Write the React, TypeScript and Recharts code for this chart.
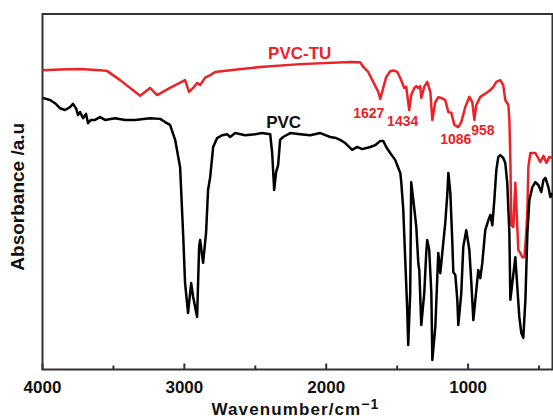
import React from "react";
import { LineChart, Line, XAxis, YAxis, ReferenceArea, ReferenceDot } from "recharts";

// PVC-TU (red) spectrum
const tuWn = [4000, 3877, 3735, 3594, 3545, 3453, 3312, 3242, 3192, 3101, 2995, 2967, 2938, 2910, 2889, 2854, 2818, 2783, 2677, 2466, 2184, 1831, 1760, 1739, 1704, 1669, 1633, 1619, 1598, 1577, 1549, 1527, 1499, 1478, 1450, 1436, 1415, 1401, 1379, 1365, 1351, 1337, 1330, 1309, 1288, 1266, 1252, 1231, 1210, 1189, 1161, 1139, 1118, 1097, 1069, 1048, 1020, 991, 970, 956, 942, 914, 872, 843, 822, 801, 773, 752, 738, 716, 709, 702, 695, 681, 667, 646, 632, 618, 603, 589, 582, 575, 561, 526, 491, 469, 448, 427, 405];
const tuAbs = [84.2, 84.4, 84.5, 84.2, 84.0, 81.4, 77.0, 79.2, 77.2, 79.2, 81.4, 78.1, 79.2, 80.6, 80.0, 82.1, 82.8, 83.7, 84.2, 85.1, 85.9, 86.5, 86.4, 85.1, 83.7, 80.9, 78.1, 76.1, 79.2, 82.3, 83.9, 84.1, 83.7, 82.0, 79.2, 79.5, 73.0, 77.2, 79.2, 79.7, 79.2, 79.7, 76.4, 79.5, 80.9, 78.1, 70.2, 75.2, 76.6, 76.4, 75.8, 72.4, 72.2, 68.8, 68.2, 69.6, 73.8, 76.7, 75.2, 70.2, 74.4, 76.7, 77.8, 78.6, 79.5, 80.9, 81.4, 80.0, 75.8, 74.4, 70.2, 59.0, 40.6, 40.1, 52.5, 33.6, 32.8, 31.6, 31.6, 39.2, 44.9, 57.0, 60.9, 60.9, 58.4, 60.1, 58.1, 59.8, 59.5];

// PVC (black) spectrum
const pvcWn = [4000, 3947, 3912, 3877, 3841, 3806, 3785, 3764, 3750, 3735, 3714, 3693, 3679, 3658, 3630, 3594, 3559, 3489, 3418, 3348, 3242, 3171, 3136, 3101, 3065, 3030, 3009, 2995, 2974, 2952, 2938, 2910, 2896, 2889, 2868, 2847, 2833, 2818, 2797, 2769, 2734, 2699, 2677, 2642, 2572, 2501, 2452, 2395, 2381, 2367, 2353, 2339, 2325, 2304, 2254, 2184, 2113, 2042, 1972, 1930, 1902, 1866, 1817, 1782, 1746, 1690, 1655, 1619, 1598, 1577, 1549, 1513, 1492, 1478, 1471, 1457, 1443, 1429, 1422, 1408, 1401, 1386, 1365, 1351, 1344, 1330, 1309, 1295, 1288, 1274, 1259, 1252, 1231, 1217, 1210, 1196, 1189, 1175, 1161, 1146, 1139, 1125, 1111, 1104, 1090, 1076, 1069, 1048, 1034, 1013, 991, 977, 963, 942, 928, 914, 900, 879, 857, 843, 829, 815, 801, 787, 773, 752, 738, 724, 709, 702, 667, 639, 625, 611, 596, 582, 568, 547, 526, 505, 484, 469, 455, 434, 420, 405];
const pvcAbs = [76.4, 75.8, 74.9, 73.5, 73.0, 73.8, 74.7, 73.5, 71.6, 72.4, 70.7, 71.9, 69.3, 70.2, 70.2, 71.0, 70.2, 70.7, 70.2, 70.2, 70.7, 70.5, 69.6, 68.8, 64.6, 56.9, 38.4, 24.3, 15.9, 24.3, 20.4, 14.8, 34.5, 36.4, 30.0, 38.4, 50.5, 54.1, 62.6, 65.1, 65.9, 66.2, 65.4, 66.5, 65.9, 66.2, 66.5, 66.2, 60.9, 50.5, 55.6, 57.5, 64.6, 65.4, 66.5, 66.2, 65.9, 66.5, 65.4, 65.1, 64.6, 63.7, 61.8, 62.6, 62.0, 62.6, 63.1, 64.3, 64.3, 62.6, 60.9, 58.9, 56.7, 55.3, 52.7, 45.0, 30.8, 16.7, 6.9, 21.5, 52.7, 47.7, 40.1, 29.9, 28.0, 12.5, 21.5, 32.8, 36.4, 33.6, 21.5, 2.7, 12.0, 26.0, 32.8, 27.1, 29.9, 35.6, 41.2, 49.6, 55.3, 49.6, 35.6, 27.4, 26.6, 19.6, 12.5, 21.5, 34.5, 39.2, 33.6, 24.3, 13.9, 22.4, 28.0, 25.7, 29.9, 39.2, 42.0, 43.5, 40.6, 47.7, 56.1, 59.8, 60.3, 59.5, 58.1, 52.5, 38.4, 19.6, 31.6, 14.8, 10.3, 8.9, 19.6, 38.4, 47.7, 51.3, 52.7, 51.9, 49.9, 53.3, 53.9, 51.3, 48.5, 49.6];

const xTicks = [4000, 3500, 3000, 2500, 2000, 1500, 1000, 500];

// annotations: text, wavenumber, absorbance (baseline), colour key, size key
const noteText = ["PVC-TU", "PVC", "1627", "1434", "1086", "958"];
const noteWn = [2187, 2300, 1700, 1461, 1087, 896];
const noteAbs = [87.3, 67.8, 70.8, 68.6, 63.4, 66.0];
const noteRed = [true, false, true, true, true, true];
const noteBig = [true, true, false, false, false, false];

const RED = "#ec2227";
const FONT = "'Liberation Sans', Arial, Helvetica, sans-serif";

const tuData = tuWn.map((w, i) => ({ wn: w, a: tuAbs[i] }));
const pvcData = pvcWn.map((w, i) => ({ wn: w, a: pvcAbs[i] }));

const Tick = (props: any) => {
  const { x, y, payload } = props;
  const major = payload.value % 1000 === 0;
  return (
    <g>
      <line x1={x} x2={x} y1={y} y2={y - (major ? 6 : 4)} stroke="#333" strokeWidth={2} />
      {major && (
        <text x={x} y={y + 23.5} textAnchor="middle" fontFamily={FONT} fontWeight="bold" fontSize={17} fill="#111">
          {payload.value}
        </text>
      )}
    </g>
  );
};

const XLabel = (props: any) => {
  const vb = props.viewBox;
  const cx = vb.x + vb.width / 2 - 2;
  return (
    <text x={cx} y={vb.y + 45.5} textAnchor="middle" fontFamily={FONT} fontWeight="bold" fontSize={17} letterSpacing={1.1} fill="#111">
      <tspan>Wavenumber/cm</tspan>
      <tspan dy={-6} fontSize={14}>−1</tspan>
    </text>
  );
};

const YLabel = (props: any) => {
  const vb = props.viewBox;
  const x = 24;
  const y = vb.y + vb.height / 2 + 5;
  return (
    <text x={x} y={y} transform={`rotate(-90 ${x} ${y})`} textAnchor="middle" fontFamily={FONT} fontWeight="bold" fontSize={19} fill="#111">
      Absorbance /a.u
    </text>
  );
};

const NoteLabel = (text: string, red: boolean, big: boolean) => (props: any) => {
  const vb = props.viewBox;
  const cx = vb.x + vb.width / 2;
  const cy = vb.y + vb.height / 2;
  return (
    <text x={cx} y={cy} textAnchor="middle" fontFamily={FONT} fontWeight="bold" fontSize={big ? 17 : 14} fill={red ? RED : "#111"}>
      {text}
    </text>
  );
};

export default function App() {
  return (
    <div style={{ position: "absolute", left: 0, top: 0, width: 553, height: 419, background: "#fff" }}>
      <LineChart width={553} height={419} margin={{ top: 14, right: 0.5, bottom: 0, left: 0 }}>
        <XAxis
          type="number"
          dataKey="wn"
          domain={[405, 4000]}
          reversed
          allowDataOverflow
          ticks={xTicks}
          interval={0}
          tickSize={0}
          tickMargin={0}
          tickLine={false}
          axisLine={false}
          tick={<Tick />}
          height={49.5}
          label={{ content: XLabel } as any}
        />
        <YAxis
          type="number"
          domain={[0, 100]}
          allowDataOverflow
          width={42.5}
          tick={false}
          tickLine={false}
          axisLine={false}
          label={{ content: YLabel } as any}
        />
        <Line data={tuData} dataKey="a" stroke={RED} strokeWidth={2.5} dot={false} isAnimationActive={false} type="linear" strokeLinejoin="round" />
        <Line data={pvcData} dataKey="a" stroke="#000" strokeWidth={2.5} dot={false} isAnimationActive={false} type="linear" strokeLinejoin="round" />
        <ReferenceArea x1={405} x2={4000} y1={0} y2={100} fill="none" stroke="#333" strokeWidth={2} ifOverflow="visible" />
        {noteText.map((t, i) => (
          <ReferenceDot
            key={t}
            x={noteWn[i]}
            y={noteAbs[i]}
            r={1}
            fill="none"
            stroke="none"
            label={{ content: NoteLabel(t, noteRed[i], noteBig[i]) } as any}
          />
        ))}
      </LineChart>
    </div>
  );
}
